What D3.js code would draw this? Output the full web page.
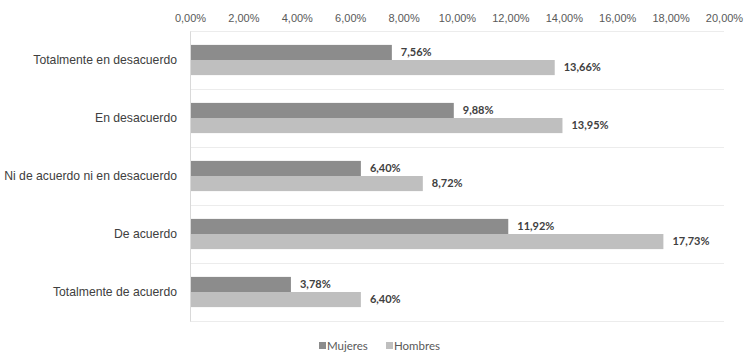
<!DOCTYPE html>
<html>
<head>
<meta charset="utf-8">
<script src="https://cdn.jsdelivr.net/npm/d3@7"></script>
<style>
  html, body { margin: 0; padding: 0; background: #fff; }
  svg { display: block; font-family: Lato, "Open Sans", sans-serif; }
</style>
</head>
<body>
<svg id="chart" width="745" height="356"></svg>
<script>
// Agreement categories, top to bottom
const categories = [
  "Totalmente en desacuerdo",
  "En desacuerdo",
  "Ni de acuerdo ni en desacuerdo",
  "De acuerdo",
  "Totalmente de acuerdo"
];
const seriesNames = ["Mujeres", "Hombres"];
const mujeres = [7.56, 9.88, 6.40, 11.92, 3.78];
const hombres = [13.66, 13.95, 8.72, 17.73, 6.40];
const xTicks = [0, 2, 4, 6, 8, 10, 12, 14, 16, 18, 20];
const colors = { Mujeres: "#8c8c8c", Hombres: "#bfbfbf" };

const svg = d3.select("#chart");
const margin = { top: 31, right: 21, bottom: 35, left: 190 };
const width = 745, height = 356;

const x = d3.scaleLinear().domain([0, 20]).range([margin.left, width - margin.right]);
const y = d3.scaleBand().domain(categories).range([margin.top, height - margin.bottom]).paddingInner(0).paddingOuter(0);
const inner = d3.scaleBand().domain(seriesNames).range([0, y.bandwidth()]).paddingInner(0).paddingOuter(0.92);

const fmt = v => v.toFixed(2).replace(".", ",") + "%";

// horizontal separators between categories
const seps = categories.map(c => y(c)).concat([y.range()[1]]);
svg.append("g").selectAll("line").data(seps).join("line")
  .attr("x1", margin.left).attr("x2", x(20))
  .attr("y1", d => Math.round(d) + 0.5).attr("y2", d => Math.round(d) + 0.5)
  .attr("stroke", "#ececec").attr("stroke-width", 1);

// top value axis
const xAxis = d3.axisTop(x).tickValues(xTicks).tickSize(0).tickPadding(0).tickFormat(d => fmt(d));
const gx = svg.append("g").attr("transform", `translate(0,${margin.top - 9})`).call(xAxis);
gx.select(".domain").remove();
gx.selectAll("text").attr("fill", "#595959").attr("font-size", 11);

// bars
const rows = categories.map((c, i) => ({ c, values: [
  { s: "Mujeres", v: mujeres[i] },
  { s: "Hombres", v: hombres[i] }
]}));

const g = svg.append("g").selectAll("g").data(rows).join("g")
  .attr("transform", d => `translate(0,${y(d.c)})`);

g.selectAll("rect").data(d => d.values).join("rect")
  .attr("x", x(0))
  .attr("y", d => inner(d.s))
  .attr("width", d => x(d.v) - x(0))
  .attr("height", inner.bandwidth())
  .attr("fill", d => colors[d.s]);

g.selectAll("text.val").data(d => d.values).join("text")
  .attr("class", "val")
  .attr("x", d => x(d.v) + 9)
  .attr("y", d => inner(d.s) + inner.bandwidth() / 2)
  .attr("dy", "0.35em")
  .attr("font-size", 11).attr("font-weight", "bold").attr("fill", "#404040")
  .text(d => fmt(d.v));

// category axis
const yAxis = d3.axisLeft(y).tickSize(0).tickPadding(13);
const gy = svg.append("g").attr("transform", `translate(${margin.left},0)`).call(yAxis);
gy.select(".domain").attr("stroke", "#d9d9d9");
gy.selectAll("text").attr("fill", "#404040").attr("font-size", 12.2);

// legend
const legend = svg.append("g").attr("transform", "translate(0,346)");
const items = [{ s: "Mujeres", x: 319 }, { s: "Hombres", x: 386 }];
items.forEach(it => {
  legend.append("rect").attr("x", it.x).attr("y", -4).attr("width", 7).attr("height", 7).attr("fill", colors[it.s]);
  legend.append("text").attr("x", it.x + 8).attr("y", 0).attr("dy", "0.35em")
    .attr("font-size", 11.5).attr("fill", "#595959").text(it.s);
});
</script>
</body>
</html>
